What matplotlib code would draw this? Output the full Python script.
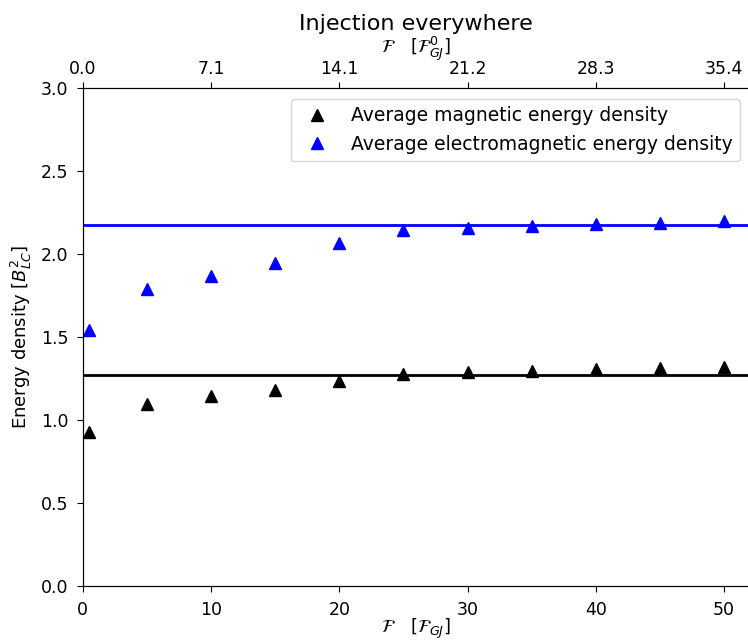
import numpy as np
import matplotlib
matplotlib.use("Agg")
import matplotlib.pyplot as plt

# Injected flux (in units of F_GJ)
flux = [0.5, 5, 10, 15, 20, 25, 30, 35, 40, 45, 50]
# Average energy densities in units of B_LC^2
magnetic = [0.93, 1.095, 1.146, 1.179, 1.235, 1.279, 1.287, 1.298, 1.306, 1.315, 1.322]
electromagnetic = [1.542, 1.789, 1.867, 1.946, 2.068, 2.145, 2.155, 2.170, 2.180, 2.189, 2.197]
# Saturation levels
magnetic_level = 1.271
electromagnetic_level = 2.177

bottom_ticks = [0, 10, 20, 30, 40, 50]
top_labels = [f"{t / np.sqrt(2):.1f}" for t in bottom_ticks]

fig = plt.figure(figsize=(7.48, 6.42), dpi=100)
ax = fig.add_axes([0.1107, 0.0872, 0.8917, 0.7756])

ax.axhline(magnetic_level, color="black", lw=2)
ax.axhline(electromagnetic_level, color="blue", lw=2)
ax.plot(flux, magnetic, ls="none", marker="^", ms=9, color="black",
        label="Average magnetic energy density")
ax.plot(flux, electromagnetic, ls="none", marker="^", ms=9, color="blue",
        label="Average electromagnetic energy density")

ax.set_xlim(0, 52)
ax.set_ylim(0, 3.0)
ax.set_xticks(bottom_ticks)
ax.set_yticks(np.arange(0, 3.01, 0.5))
ax.tick_params(labelsize=12.5, length=4.5, pad=6)
ax.set_xlabel(r"$\mathcal{F}\quad[\mathcal{F}_{GJ}]$", fontsize=13, labelpad=-1)
ax.set_ylabel(r"Energy density $[B_{LC}^2]$", fontsize=13, labelpad=5)

top = ax.twiny()
top.set_xlim(ax.get_xlim())
top.set_xticks(bottom_ticks)
top.set_xticklabels(top_labels)
top.tick_params(labelsize=12.5, length=4.5, pad=3)
top.set_xlabel(r"$\mathcal{F}\quad[\mathcal{F}^0_{GJ}]$", fontsize=13, labelpad=5)
top.set_title("Injection everywhere", fontsize=16, pad=2)

ax.legend(loc="upper right", numpoints=1, fontsize=13.5,
          bbox_to_anchor=(0.999, 0.997))

fig.savefig("out.png", dpi=100)
